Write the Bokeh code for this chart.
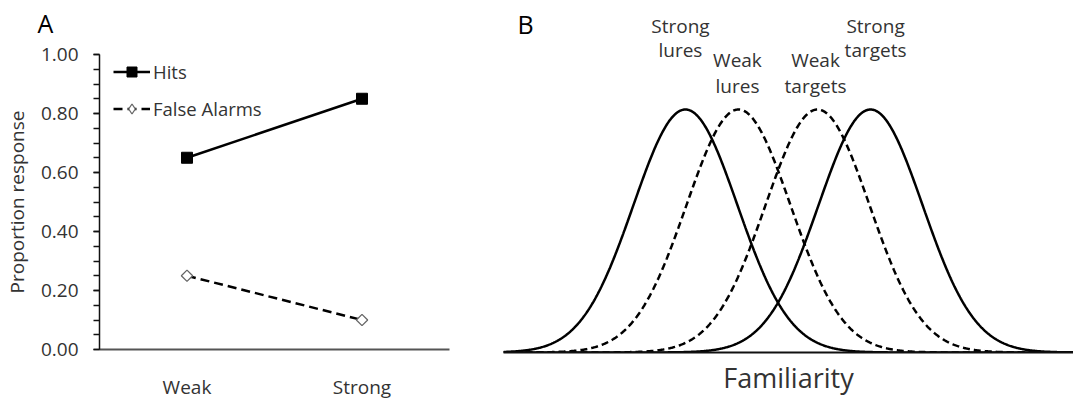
import numpy as np
from bokeh.plotting import figure
from bokeh.layouts import row
from bokeh.models import (Range1d, FactorRange, SingleIntervalTicker, PrintfTickFormatter,
                          Legend, LegendItem, Label, FixedTicker, ColumnDataSource, Title)
from bokeh.embed import file_html
from bokeh.resources import INLINE

# ---------------- data ----------------
strength = ["Weak", "Strong"]
hits = [0.65, 0.85]
false_alarms = [0.25, 0.10]

dist_names_top = ["Strong", "Weak", "Weak", "Strong"]
dist_names_bottom = ["lures", "lures", "targets", "targets"]
dist_means = [-1.78, -0.76, 0.76, 1.78]
dist_sd = [1.0, 1.0, 1.0, 1.0]
dist_peak = [1.0, 1.0, 1.0, 1.0]
dist_dashed = [False, True, True, False]

FONT = "Open Sans"
TXT = "#333333"

# ---------------- panel A ----------------
pA = figure(width=490, height=402, x_range=FactorRange(factors=strength),
            y_range=Range1d(0, 1), output_backend="svg", toolbar_location=None,
            title=None, min_border_left=99, min_border_right=41,
            min_border_top=53, min_border_bottom=50)
pA.frame_align = False
pA.outline_line_color = None
pA.xgrid.visible = False
pA.ygrid.visible = False

# small spacer next to the frame, then the panel letter above it
pA.add_layout(Title(text=" ", text_font_size="1px", standoff=4), "above")
pA.add_layout(Title(text="A", align="left", offset=-62, vertical_align="top", standoff=11,
                    text_font=FONT, text_font_size="25px", text_font_style="normal",
                    text_color="black"), "above")

l1 = pA.line(strength, hits, line_color="black", line_width=2.5)
m1 = pA.scatter(strength, hits, marker="square", size=11, fill_color="black",
                line_color="black")
l2 = pA.line(strength, false_alarms, line_color="black", line_width=2.5, line_dash="9 5")
m2leg = pA.scatter(strength, false_alarms, marker="diamond", size=10,
                   fill_color="white", line_color="#666666", line_width=1.3)
m2 = pA.scatter(strength, false_alarms, marker="square", angle=np.pi / 4, size=8,
                fill_color="white", line_color="#666666", line_width=1.3)

ya = pA.yaxis[0]
ya.ticker = SingleIntervalTicker(interval=0.2, num_minor_ticks=4)
ya.formatter = PrintfTickFormatter(format="%.2f")
ya.axis_line_color = "#111111"
ya.axis_line_width = 1.5
ya.major_tick_line_color = "#111111"
ya.minor_tick_line_color = "#111111"
ya.major_tick_line_width = 1.5
ya.minor_tick_line_width = 1.5
ya.major_tick_in = 0
ya.minor_tick_in = 0
ya.major_tick_out = 6
ya.minor_tick_out = 6
ya.major_label_text_font = FONT
ya.major_label_text_font_size = "19px"
ya.major_label_text_color = TXT
ya.major_label_standoff = 15
ya.axis_label = "Proportion response"
ya.axis_label_text_font = FONT
ya.axis_label_text_font_size = "19px"
ya.axis_label_text_font_style = "normal"
ya.axis_label_text_color = TXT
ya.axis_label_standoff = 8

xa = pA.xaxis[0]
xa.axis_line_color = "#555555"
xa.axis_line_width = 2
xa.major_tick_line_color = None
xa.minor_tick_line_color = None
xa.major_tick_out = 0
xa.major_label_text_font = FONT
xa.major_label_text_font_size = "19px"
xa.major_label_text_color = TXT
xa.major_label_standoff = 24

legend = Legend(items=[LegendItem(label="Hits", renderers=[l1, m1]),
                       LegendItem(label="False Alarms", renderers=[l2, m2leg])],
                location=(14, 228), orientation="vertical", glyph_width=37,
                glyph_height=25, label_height=25, label_standoff=3, spacing=12,
                padding=0, margin=0, border_line_color=None,
                background_fill_alpha=0, label_text_font=FONT,
                label_text_font_size="18.5px", label_text_color=TXT)
pA.add_layout(legend, "center")

# ---------------- panel B ----------------
px_per_sd = 52.0
x0 = (503 - 777.5) / px_per_sd
x1 = (1073 - 777.5) / px_per_sd
pB = figure(width=583, height=402, x_range=Range1d(x0, x1), y_range=Range1d(0, 352 / 243),
            output_backend="svg", toolbar_location=None, title=None,
            y_axis_location=None, min_border_left=13, min_border_right=0,
            min_border_top=0, min_border_bottom=50)
pB.frame_align = False
pB.outline_line_color = None
pB.xgrid.visible = False
pB.ygrid.visible = False

xs = np.linspace(x0, x1, 800)
for mu, sd, pk, dashed in zip(dist_means, dist_sd, dist_peak, dist_dashed):
    ys = pk * np.exp(-0.5 * ((xs - mu) / sd) ** 2)
    pB.line(xs, ys, line_color="black", line_width=2.5,
            line_dash="7 4" if dashed else "solid")

xb = pB.xaxis[0]
xb.ticker = FixedTicker(ticks=[])
xb.axis_line_color = "#111111"
xb.axis_line_width = 2
xb.major_tick_out = 0
xb.major_tick_in = 0
xb.axis_label = "Familiarity"
xb.axis_label_text_font = FONT
xb.axis_label_text_font_size = "27px"
xb.axis_label_text_font_style = "normal"
xb.axis_label_text_color = TXT
xb.axis_label_standoff = 6

label_x_shift = [-5, -1, -2, 5]
top_row_offset = [-84, -50, -50, -84]
bottom_row_offset = [-60, -24, -24, -60]
src = ColumnDataSource(dict(x=dist_means, y=dist_peak, t1=dist_names_top,
                            t2=dist_names_bottom, dx=label_x_shift,
                            o1=top_row_offset, o2=bottom_row_offset))
pB.text(x="x", y="y", text="t1", x_offset="dx", y_offset="o1", source=src,
        text_align="center", text_baseline="alphabetic", text_font={"value": FONT},
        text_font_size="19px", text_color=TXT)
pB.text(x="x", y="y", text="t2", x_offset="dx", y_offset="o2", source=src,
        text_align="center", text_baseline="alphabetic", text_font={"value": FONT},
        text_font_size="19px", text_color=TXT)

pB.add_layout(Label(x=27, y=23, x_units="canvas", y_units="canvas", text="B",
                    text_font=FONT, text_font_size="25px", text_color="black",
                    text_baseline="alphabetic"))

layout = row(pA, pB)
open("out.html", "w").write(file_html(layout, INLINE))
